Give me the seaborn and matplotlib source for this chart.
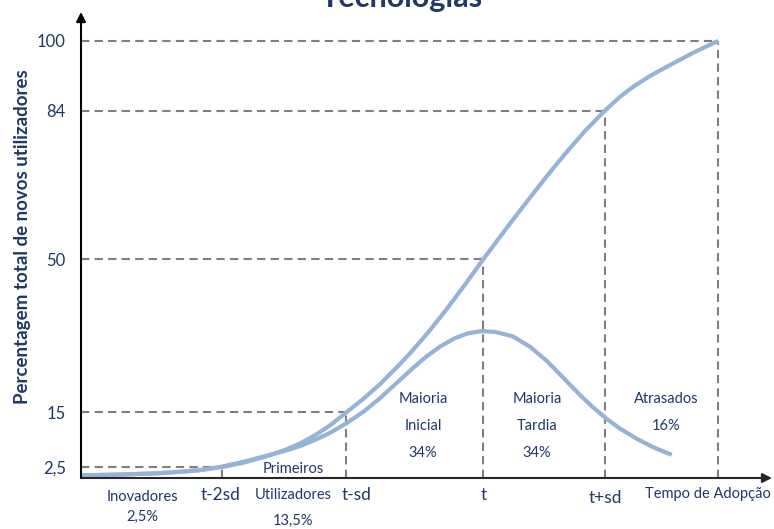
import matplotlib
matplotlib.use("Agg")
import matplotlib.pyplot as plt
import seaborn as sns
import pandas as pd

# ---- data ----
s_time = [0, 6, 11.4, 15, 17.2, 20.4, 23.5, 26.9, 29.5, 31.7, 34, 36, 38.4, 41,
          43.3, 46, 48, 50.5, 53, 55.6, 58.2, 61.6, 65.4, 68, 70.3, 73, 75.8,
          78, 79.9, 82.5, 84.8, 88.5, 92.2]
s_pct = [0.6, 0.8, 1.1, 1.5, 1.8, 2.5, 3.5, 5.0, 6.4, 7.9, 9.9, 12.0, 15.0, 18.3,
         21.5, 25.8, 29.2, 33.8, 38.8, 44.3, 50.0, 57.2, 65.0, 70.2, 74.6, 79.5, 84.0,
         87.2, 89.5, 92.1, 94.1, 97.2, 100.0]

bell_time = [0, 6, 11.4, 15, 17.2, 20.4, 23.5, 26.9, 29.5, 31.7, 34, 36, 38.5, 41,
             43.3, 46, 48, 50, 52, 54, 56, 58, 60, 62.5, 65, 67.4, 70, 72.2, 74,
             76.1, 78, 80.5, 83, 85.5]
bell_pct = [0.6, 0.8, 1.1, 1.5, 1.8, 2.6, 3.7, 5.1, 6.2, 7.3, 8.8, 10.3, 12.6, 15.3,
            18.3, 22.2, 25.1, 27.8, 30.1, 31.9, 33.1, 33.6, 33.4, 32.4, 30.0, 26.8,
            22.6, 19.0, 16.3, 13.5, 11.3, 8.9, 6.9, 5.3]

guide_levels = [2.5, 15, 50, 84, 100]
guide_times = [20.4, 38.4, 58.2, 75.8, 92.2]
ytick_labels = ["2,5", "15", "50", "84", "100"]
xtick_labels = ["t-2sd", "t-sd", "t", "t+sd", "Tempo de Adopção"]

title = "Tecnologias"
ylabel = "Percentagem total de novos utilizadores"

NAVY = "#1F3864"
CURVE = "#95B3D7"
GRID = "#7F7F7F"

df = pd.concat([
    pd.DataFrame({"time": s_time, "pct": s_pct, "series": "acumulado"}),
    pd.DataFrame({"time": bell_time, "pct": bell_pct, "series": "novos"}),
])

sns.set_theme(style="white")
plt.rcParams["font.family"] = ["Lato", "DejaVu Sans"]

W, H = 774, 529
fig = plt.figure(figsize=(W / 100, H / 100), dpi=100)
x0, x1, y0, y1 = 81, 772, 478, 12
ax = fig.add_axes([x0 / W, 1 - y0 / H, (x1 - x0) / W, (y0 - y1) / H])
ax.set_xlim(0, 100)
ax.set_ylim(0, 106.6)

# dashed guides
for lv, tm in zip(guide_levels, guide_times):
    ax.plot([0, tm], [lv, lv], color=GRID, lw=1.5, dashes=(4, 2.5), zorder=1)
    ax.plot([tm, tm], [0, lv], color=GRID, lw=1.5, dashes=(4, 2.5), zorder=1)

sns.lineplot(data=df, x="time", y="pct", hue="series", units="series",
             estimator=None, sort=False, palette=[CURVE, CURVE], lw=3,
             legend=False, ax=ax, zorder=3)
for ln in ax.get_lines():
    ln.set_solid_capstyle("butt")
    ln.set_solid_joinstyle("round")

for sp in ax.spines.values():
    sp.set_visible(False)
ax.annotate("", xy=(1.0, 0), xytext=(0, 0), xycoords="axes fraction",
            arrowprops=dict(arrowstyle="-|>", color="#262626", lw=1.5,
                            mutation_scale=14, shrinkA=0, shrinkB=0), zorder=5)
ax.annotate("", xy=(0, 1.0), xytext=(0, 0), xycoords="axes fraction",
            arrowprops=dict(arrowstyle="-|>", color="#000000", lw=1.5,
                            mutation_scale=14, shrinkA=0, shrinkB=0), zorder=5)

ax.set_yticks(guide_levels)
ax.set_yticklabels(ytick_labels, color=NAVY, fontsize=12)
ax.tick_params(axis="y", length=0, pad=11)
ax.set_xticks([])
ax.set_xlabel("")
ax.set_ylabel(ylabel, fontsize=13.5, fontweight="bold", color=NAVY)
ax.yaxis.set_label_coords(-50 / (x1 - x0), (y0 - 237) / (y0 - y1))

# x labels (pixel placement in figure coordinates)
def ftext(px, py, s, size=10.5, **kw):
    fig.text(px / W, 1 - py / H, s, ha="center", va="center", color=NAVY,
             fontsize=size, **kw)

ftext(221, 495, xtick_labels[0], 12.5)
ftext(357, 495, xtick_labels[1], 12.5)
ftext(484, 495, xtick_labels[2], 12.5)
ftext(605, 498, xtick_labels[3], 12.5)
ftext(708, 494, xtick_labels[4], 10.5)

ftext(142, 497, "Inovadores")
ftext(142, 517, "2,5%")
ftext(293, 469, "Primeiros")
ftext(293, 495, "Utilizadores")
ftext(293, 521, "13,5%")
ftext(423, 399, "Maioria")
ftext(423, 426, "Inicial")
ftext(423, 453, "34%")
ftext(537, 399, "Maioria")
ftext(537, 426, "Tardia")
ftext(537, 453, "34%")
ftext(666, 399, "Atrasados")
ftext(666, 426, "16%")

fig.text(402 / W, 1 - 7 / H, title, ha="center", va="baseline", color=NAVY,
         fontsize=22, fontweight="bold")

fig.savefig("out.png", dpi=100)
